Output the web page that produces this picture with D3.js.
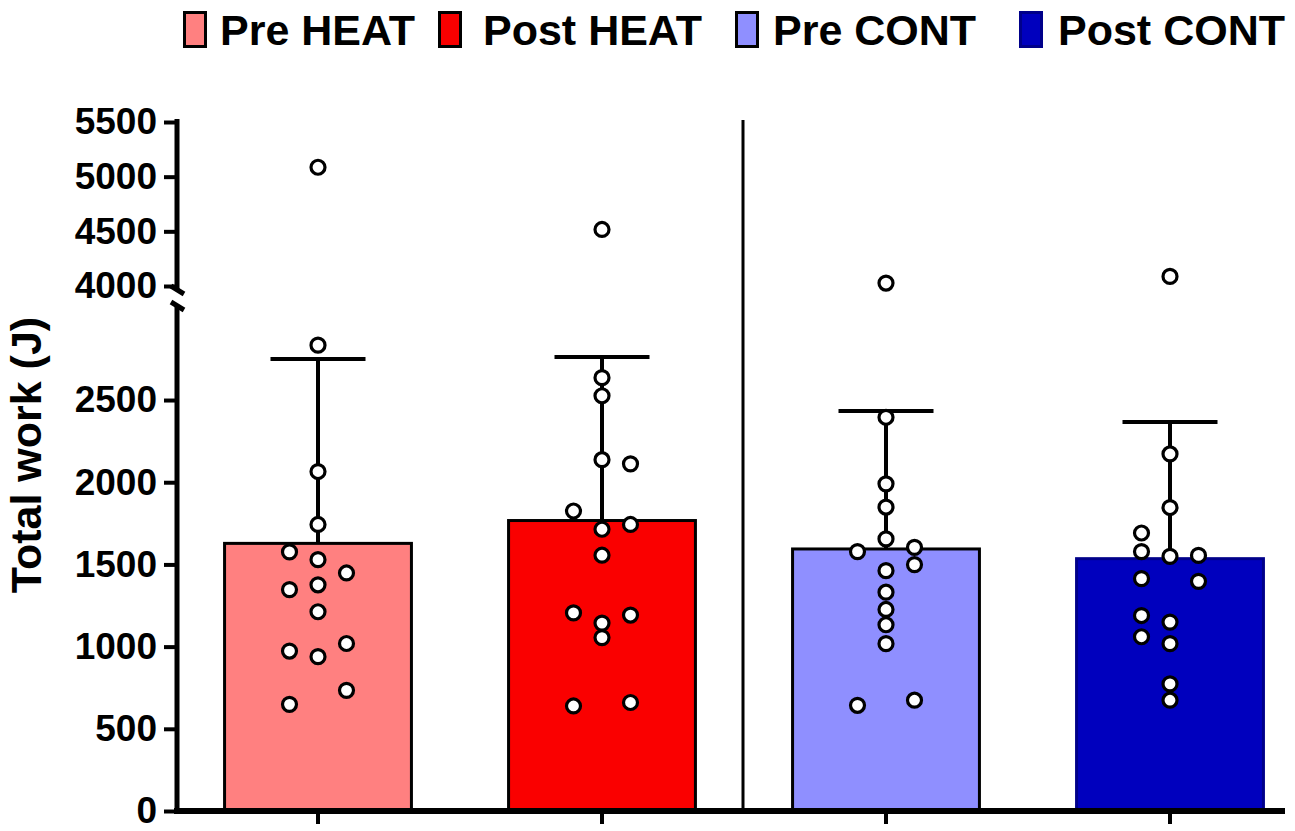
<!DOCTYPE html>
<html>
<head>
<meta charset="utf-8">
<script src="https://cdn.jsdelivr.net/npm/d3@7"></script>
<style>
  html, body { margin: 0; padding: 0; background: #fff; }
  svg { display: block; }
  text { font-family: "Liberation Sans", Arial, sans-serif; font-weight: bold; fill: #000; }
</style>
</head>
<body>
<svg id="chart" width="1295" height="831"></svg>
<script>
// ---------------- data ----------------
const categories = ["Pre HEAT", "Post HEAT", "Pre CONT", "Post CONT"];
const means = [1628, 1767, 1594, 1535];
const sds = [1121, 995, 839, 831];

const preHeatValues  = [5086, 2834, 2065, 1743, 1576, 1529, 1448, 1376, 1347, 1212, 1019, 973, 939, 734, 649];
const preHeatSlots   = [0, 0, 0, 0, -1, 0, 1, 0, -1, 0, 1, -1, 0, 1, -1];
const postHeatValues = [4517, 2636, 2526, 2137, 2112, 1825, 1714, 1743, 1556, 1205, 1192, 1143, 1055, 639, 660];
const postHeatSlots  = [0, 0, 0, 0, 1, -1, 0, 1, 0, -1, 1, 0, 0, -1, 1];
const preContValues  = [4027, 2395, 1990, 1849, 1655, 1578, 1604, 1499, 1462, 1331, 1226, 1133, 1018, 674, 643];
const preContSlots   = [0, 0, 0, 0, 0, -1, 1, 1, 0, 0, 0, 0, 0, 1, -1];
const postContValues = [4088, 2172, 1846, 1691, 1578, 1549, 1555, 1414, 1397, 1189, 1149, 1060, 1018, 773, 674];
const postContSlots  = [0, 0, 0, -1, -1, 0, 1, -1, 1, -1, 0, -1, 0, 0, 0];

const lowerTicks = [0, 500, 1000, 1500, 2000, 2500];
const upperTicks = [4000, 4500, 5000, 5500];
const yTitle = "Total work (J)";

// ---------------- styles ----------------
const fills   = ["#FF8080", "#FA0000", "#8F8FFF", "#0000BE"];
const strokes = ["#000", "#000", "#000", "#00008A"];
const legendSwatchX = [183, 438, 735, 1019];
const legendTextX   = [220, 483, 773, 1058];

const groups = [
  { values: preHeatValues,  slots: preHeatSlots },
  { values: postHeatValues, slots: postHeatSlots },
  { values: preContValues,  slots: preContSlots },
  { values: postContValues, slots: postContSlots }
];

const svg = d3.select("#chart");

// ---------------- scales ----------------
const x = d3.scaleBand().domain(categories).range([176, 1312]).paddingInner(0.342).paddingOuter(0.171);
const yLow = d3.scaleLinear().domain([0, 3100]).range([811, 301.4]);
const yHigh = d3.scaleLinear().domain([4000, 5500]).range([286, 122]);
const breakAt = 3100;
const y = v => v <= breakAt ? yLow(v) : yHigh(v);
const dotSpacing = 28.5;
const cx = (c) => x(c) + x.bandwidth() / 2;

// ---------------- divider ----------------
svg.append("line")
  .attr("x1", 743).attr("x2", 743)
  .attr("y1", 120).attr("y2", 811)
  .attr("stroke", "#000").attr("stroke-width", 3);

// ---------------- bars ----------------
svg.append("g").selectAll("rect")
  .data(categories)
  .join("rect")
  .attr("x", d => x(d))
  .attr("width", x.bandwidth())
  .attr("y", (d, i) => y(means[i]))
  .attr("height", (d, i) => y(0) - y(means[i]))
  .attr("fill", (d, i) => fills[i])
  .attr("stroke", (d, i) => strokes[i])
  .attr("stroke-width", 3);

// ---------------- error bars ----------------
const eb = svg.append("g");
categories.forEach((c, i) => {
  const top = y(means[i] + sds[i]);
  eb.append("line")
    .attr("x1", cx(c)).attr("x2", cx(c))
    .attr("y1", y(means[i])).attr("y2", top)
    .attr("stroke", "#000").attr("stroke-width", 4);
  eb.append("line")
    .attr("x1", cx(c) - 47.5).attr("x2", cx(c) + 47.5)
    .attr("y1", top).attr("y2", top)
    .attr("stroke", "#000").attr("stroke-width", 4);
});

// ---------------- dots ----------------
const dots = [];
groups.forEach((g, i) => g.values.forEach((v, j) => dots.push({ c: categories[i], v, s: g.slots[j] })));
svg.append("g").selectAll("circle")
  .data(dots)
  .join("circle")
  .attr("cx", d => cx(d.c) + d.s * dotSpacing)
  .attr("cy", d => y(d.v))
  .attr("r", 7)
  .attr("fill", "#fff")
  .attr("stroke", "#000")
  .attr("stroke-width", 3.2);

// ---------------- axes ----------------
function styleAxis(g) {
  g.selectAll(".domain").remove();
  g.selectAll(".tick line").attr("stroke", "#000").attr("stroke-width", 4);
  g.selectAll(".tick text")
    .style("font-family", "'Liberation Sans', Arial, sans-serif")
    .style("font-weight", "bold")
    .style("font-size", "37px")
    .attr("fill", "#000");
}
const axisLow = svg.append("g").attr("transform", "translate(177,0)")
  .call(d3.axisLeft(yLow).tickValues(lowerTicks).tickSize(13).tickPadding(7).tickFormat(d3.format("d")));
styleAxis(axisLow);
const axisHigh = svg.append("g").attr("transform", "translate(177,0)")
  .call(d3.axisLeft(yHigh).tickValues(upperTicks).tickSize(13).tickPadding(7).tickFormat(d3.format("d")));
styleAxis(axisHigh);

// y axis segments with break marks
svg.append("line").attr("x1", 177).attr("x2", 177).attr("y1", 119).attr("y2", 290)
  .attr("stroke", "#000").attr("stroke-width", 5);
svg.append("line").attr("x1", 177).attr("x2", 177).attr("y1", 306).attr("y2", 814)
  .attr("stroke", "#000").attr("stroke-width", 5);
svg.append("line").attr("x1", 171).attr("x2", 184).attr("y1", 286).attr("y2", 294)
  .attr("stroke", "#000").attr("stroke-width", 5);
svg.append("line").attr("x1", 171).attr("x2", 184).attr("y1", 302).attr("y2", 310)
  .attr("stroke", "#000").attr("stroke-width", 5);

// x axis
svg.append("line").attr("x1", 174).attr("x2", 1285).attr("y1", 811).attr("y2", 811)
  .attr("stroke", "#000").attr("stroke-width", 6);
svg.append("g").selectAll("line")
  .data(categories)
  .join("line")
  .attr("x1", d => cx(d)).attr("x2", d => cx(d))
  .attr("y1", 811).attr("y2", 824)
  .attr("stroke", "#000").attr("stroke-width", 4);

// y title
svg.append("text")
  .attr("transform", "translate(41,455) rotate(-90)")
  .attr("text-anchor", "middle")
  .style("font-size", "43px")
  .text(yTitle);

// ---------------- legend ----------------
const lg = svg.append("g");
categories.forEach((c, i) => {
  lg.append("rect")
    .attr("x", legendSwatchX[i] + 1.5).attr("y", 12.5)
    .attr("width", 21).attr("height", 34)
    .attr("fill", fills[i])
    .attr("stroke", strokes[i])
    .attr("stroke-width", 3);
  lg.append("text")
    .attr("x", legendTextX[i]).attr("y", 45)
    .style("font-size", "43px")
    .text(c);
});
</script>
</body>
</html>
